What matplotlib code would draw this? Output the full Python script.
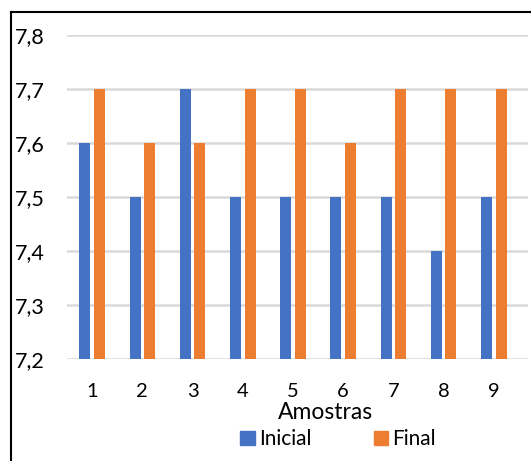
import matplotlib.pyplot as plt
import numpy as np
from matplotlib.lines import Line2D
from matplotlib.patches import Patch

amostras = ["1", "2", "3", "4", "5", "6", "7", "8", "9"]
inicial = [7.6, 7.5, 7.7, 7.5, 7.5, 7.5, 7.5, 7.4, 7.5]
final = [7.7, 7.6, 7.6, 7.7, 7.7, 7.6, 7.7, 7.7, 7.7]
y_ticks = [7.2, 7.3, 7.4, 7.5, 7.6, 7.7, 7.8]

blue = "#4472C4"
orange = "#ED7D31"

plt.rcParams["font.family"] = ["Lato", "DejaVu Sans"]

W, H = 531, 461
fig = plt.figure(figsize=(W / 100, H / 100), dpi=100)
ax = fig.add_axes([67 / W, 1 - 359 / H, (528 - 67) / W, (359 - 35) / H])

x = np.arange(len(amostras))
bw = 0.22
ax.bar(x - 0.145, [v - 7.2 for v in inicial], bw, bottom=7.2, color=blue, zorder=3)
ax.bar(x + 0.145, [v - 7.2 for v in final], bw, bottom=7.2, color=orange, zorder=3)

ax.set_ylim(7.2, 7.8)
ax.set_xlim(-0.5, 8.68)
ax.set_yticks(y_ticks)
ax.set_yticklabels([f"{v:.1f}".replace(".", ",") for v in y_ticks], fontsize=15.5, ha="left")
ax.set_xticks(x)
ax.set_xticklabels(amostras, fontsize=14.5)
ax.tick_params(axis="y", length=0, pad=37.5)
ax.tick_params(axis="x", length=0, pad=17)
ax.grid(axis="y", color="#D9D9D9", linewidth=1.8, zorder=0)
for s in ax.spines.values():
    s.set_visible(False)

fig.text(326 / W, 1 - 412 / H, "Amostras", fontsize=16.5, ha="center", va="center")

handles = [Patch(color=blue), Patch(color=orange)]
fig.legend(handles, ["Inicial", "Final"], ncol=2, loc="center",
           bbox_to_anchor=(338 / W, 1 - 439 / H), frameon=False, fontsize=15,
           handlelength=0.68, handleheight=0.68, handletextpad=0.2,
           columnspacing=3.0, borderpad=0, borderaxespad=0)

# frame around the chart
fig.add_artist(Line2D([10.5 / W, 10.5 / W], [0, 1 - 12.5 / H], color="black", linewidth=1.5))
fig.add_artist(Line2D([10.5 / W, 1], [1 - 12.5 / H, 1 - 12.5 / H], color="black", linewidth=1.5))

fig.savefig("out.png", dpi=100)
